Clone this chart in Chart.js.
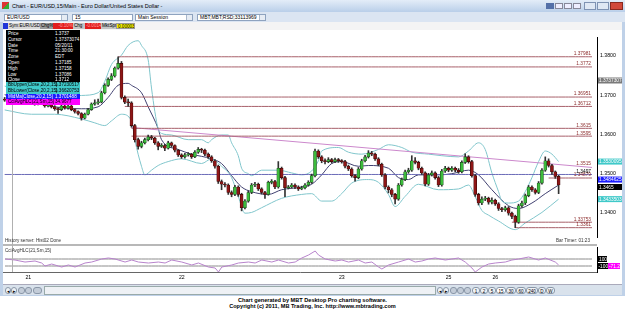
<!DOCTYPE html>
<html>
<head>
<meta charset="utf-8">
<script src="https://cdn.jsdelivr.net/npm/chart.js@4.4.0/dist/chart.umd.min.js"></script>
<style>
body{margin:0;width:625px;height:310px;overflow:hidden;position:relative;background:#fff;font-family:"Liberation Sans",Arial,sans-serif;color:#000}
div,span,canvas{position:absolute;box-sizing:border-box}
#win{left:0;top:0;width:625px;height:296px;background:#bfd1e8}
#title{left:0;top:0;width:625px;height:12px;background:linear-gradient(#e3edf8,#b9cfe9);font-size:5.5px;line-height:12px}
#tool{left:0;top:12px;width:625px;height:10px;background:#dbe5f2}
.dd{top:2px;height:7px;background:#fff;border:1px solid #8ea3bf;font-size:5px;line-height:5px;padding-left:2px}
.arr{top:0;right:0;width:6px;height:5px;background:#e6ecf4;border-left:1px solid #a9b8cc}
#strip{left:3px;top:22px;width:619px;height:8px;background:#f4f4f4}
.sb{top:1px;height:6px;font-size:4.6px;line-height:6px;padding-left:1px;white-space:nowrap;overflow:hidden}
#panel{left:3px;top:30px;width:619px;height:254px;background:#fff}
#info{left:6px;top:30px;width:74px}
.row{left:0;width:74px;height:5.8px;font-size:4.6px;line-height:5.8px;white-space:nowrap}
.row span{top:0}
#scroll{left:3px;top:284px;width:619px;height:11px;background:#d9e2ec;border-top:1px solid #aab}
.tab{top:2px;height:7px;font-size:4.6px;line-height:7px;border:1px solid #8a97a8;border-radius:3px;background:#eef2f6;text-align:center}
.foot{left:0;width:625px;text-align:center;font-weight:bold;font-size:5.6px}
</style>
</head>
<body>
<div id="win"></div>
<div id="title">
  <span style="left:2px;top:2px;width:7px;height:7px;background:linear-gradient(135deg,#d33 50%,#3a3 50%)"></span>
  <span style="left:12px;top:0">Chart - EUR/USD,15/Main - Euro Dollar/United States Dollar -</span>
  <span style="left:546px;top:3px;width:8px;height:6px;background:#5470a8"></span>
  <span style="left:555px;top:3px;width:8px;height:6px;background:#eef;border:1px solid #889"></span>
  <span style="left:564px;top:3px;width:8px;height:6px;background:#eef;border:1px solid #889"></span>
  <span style="left:573px;top:3px;width:8px;height:6px;background:#eef;border:1px solid #889"></span>
  <span style="left:584px;top:2px;width:12px;height:8px;background:#dfe8f4;border:1px solid #7f93b3"></span>
  <span style="left:597px;top:2px;width:12px;height:8px;background:#dfe8f4;border:1px solid #7f93b3"></span>
  <span style="left:610px;top:2px;width:13px;height:8px;background:#d2493a;border:1px solid #8a2a20"></span>
</div>
<div id="tool">
  <div class="dd" style="left:4px;width:64px">EUR/USD<span class="arr"></span></div>
  <div class="dd" style="left:72px;width:61px">15</div>
  <div class="dd" style="left:135px;width:58px">Main Session<span class="arr"></span></div>
  <div class="dd" style="left:197px;width:69px">MBT;MBT;RSD;33113969<span class="arr"></span></div>
</div>
<div id="strip">
  <span class="sb" style="left:0;width:5px;background:#1f35d8"></span>
  <span class="sb" style="left:5px;width:32px;background:#d8d8d8">Sym:EUR/USD</span>
  <span class="sb" style="left:37px;width:13px;background:#9a9a9a">Chg%</span>
  <span class="sb" style="left:50px;width:20px;background:#e21c1c;color:#ff9c9c;text-align:right">-0.10%</span>
  <span class="sb" style="left:70px;width:12px;background:#c4c4c4">Chg</span>
  <span class="sb" style="left:82px;width:16px;background:#e21c1c;color:#ff9c9c">-0.0014</span>
  <span class="sb" style="left:98px;width:15px;background:#c4c4c4">MktSpr</span>
  <span class="sb" style="left:113px;width:19px;background:#f4f000;border:1px solid #999">0.00003</span>
</div>
<div id="panel"></div>
<canvas id="main" width="619" height="213" style="left:3px;top:31px"></canvas>
<span style="left:3px;top:244px;width:594px;height:2px;background:#b8b8b8"></span>
<canvas id="osc" width="619" height="36" style="left:3px;top:247px"></canvas>
<span style="left:12px;top:31px;width:1px;height:241px;background:#b0b0b0"></span>
<span style="left:5px;top:238px;font-size:4.6px;color:#333">History server: Hist02 Done</span>
<span style="left:556px;top:238px;font-size:4.6px;color:#333">Bar Timer: 01:23</span>
<span style="left:5px;top:248px;font-size:4.6px;color:#333">CciAvgHLC(21,Sm,15)</span>
<div id="info">
  <div style="left:0;top:0;width:74px;height:52px;background:#000"></div>
</div>
<div id="scroll">
  <span class="tab" style="left:2px;width:6px">&#9666;</span>
  <span class="tab" style="left:8px;width:6px">&#9656;</span>
  <span class="tab" style="left:15px;width:7px;background:#c3ccd8"></span>
  <span class="tab" style="left:22px;width:7px;background:#c3ccd8"></span>
  <span class="tab" style="left:30px;width:9px;background:#c3ccd8"></span>
  <span style="left:41px;top:1px;width:392px;height:9px;border:1px solid #9aa;background:#eef1f5"></span>
  <span class="tab" style="left:434px;width:6px">&#9666;</span>
  <span class="tab" style="left:440px;width:6px">&#9656;</span>
  <span class="tab" style="left:447px;width:7px;background:#c3ccd8"></span>
  <span class="tab" style="left:454px;width:7px;background:#c3ccd8"></span>
  <span class="tab" style="left:461px;width:7px;background:#c3ccd8"></span>
  <span class="tab" style="left:469px;width:8px">1</span>
  <span class="tab" style="left:477px;width:8px">2</span>
  <span class="tab" style="left:485px;width:8px">5</span>
  <span class="tab" style="left:493px;width:10px;background:#fff">15</span>
  <span class="tab" style="left:503px;width:10px">30</span>
  <span class="tab" style="left:513px;width:10px">60</span>
  <span class="tab" style="left:523px;width:12px">240</span>
  <span class="tab" style="left:535px;width:8px">D</span>
  <span class="tab" style="left:543px;width:9px">W</span>
</div>
<div class="foot" style="top:297px">Chart generated by MBT Desktop Pro charting software.</div>
<div class="foot" style="top:303px">Copyright (c) 2011, MB Trading, Inc. http://www.mbtrading.com</div>
<script>
// 15 minute EUR/USD candles
var opens = [1.3690,1.3687,1.3692,1.3694,1.3689,1.3696,1.3692,1.3684,1.3689,1.3682,
  1.3677,1.3684,1.3680,1.3672,1.3675,1.3670,1.3665,1.3663,1.3672,1.3667,
  1.3672,1.3663,1.3658,1.3653,1.3641,1.3651,1.3663,1.3677,1.3680,1.3682,
  1.3706,1.3725,1.3740,1.3749,1.3769,1.3781,1.3694,1.3682,1.3680,1.3622,
  1.3586,1.3569,1.3578,1.3586,1.3593,1.3590,1.3578,1.3569,1.3571,1.3564,
  1.3578,1.3571,1.3559,1.3547,1.3542,1.3547,1.3549,1.3542,1.3554,1.3561,
  1.3559,1.3549,1.3542,1.3532,1.3518,1.3479,1.3472,1.3470,1.3451,1.3446,
  1.3465,1.3446,1.3412,1.3429,1.3451,1.3470,1.3472,1.3460,1.3451,1.3446,
  1.3477,1.3479,1.3465,1.3513,1.3489,1.3463,1.3465,1.3470,1.3465,1.3460,
  1.3463,1.3470,1.3477,1.3494,1.3557,1.3542,1.3532,1.3530,1.3535,1.3530,
  1.3535,1.3532,1.3530,1.3518,1.3511,1.3494,1.3489,1.3511,1.3532,1.3542,
  1.3552,1.3549,1.3537,1.3523,1.3496,1.3465,1.3458,1.3446,1.3434,1.3470,
  1.3484,1.3504,1.3508,1.3532,1.3528,1.3513,1.3501,1.3472,1.3496,1.3501,
  1.3489,1.3470,1.3506,1.3513,1.3508,1.3513,1.3508,1.3504,1.3528,1.3542,
  1.3530,1.3494,1.3446,1.3424,1.3434,1.3436,1.3426,1.3431,1.3422,1.3410,
  1.3407,1.3412,1.3398,1.3390,1.3375,1.3417,1.3424,1.3443,1.3465,1.3458,
  1.3451,1.3475,1.3508,1.3532,1.3520,1.3504,1.3492];
var closes = [1.3687,1.3692,1.3694,1.3689,1.3696,1.3692,1.3684,1.3689,1.3682,1.3677,
  1.3684,1.3680,1.3672,1.3675,1.3670,1.3665,1.3663,1.3672,1.3667,1.3672,
  1.3663,1.3658,1.3653,1.3641,1.3651,1.3663,1.3677,1.3680,1.3682,1.3706,
  1.3725,1.3740,1.3749,1.3769,1.3781,1.3694,1.3682,1.3680,1.3622,1.3586,
  1.3569,1.3578,1.3586,1.3593,1.3590,1.3578,1.3569,1.3571,1.3564,1.3578,
  1.3571,1.3559,1.3547,1.3542,1.3547,1.3549,1.3542,1.3554,1.3561,1.3559,
  1.3549,1.3542,1.3532,1.3518,1.3479,1.3472,1.3470,1.3451,1.3446,1.3465,
  1.3446,1.3412,1.3429,1.3451,1.3470,1.3472,1.3460,1.3451,1.3446,1.3477,
  1.3479,1.3465,1.3513,1.3489,1.3463,1.3465,1.3470,1.3465,1.3460,1.3463,
  1.3470,1.3477,1.3494,1.3557,1.3542,1.3532,1.3530,1.3535,1.3530,1.3535,
  1.3532,1.3530,1.3518,1.3511,1.3494,1.3489,1.3511,1.3532,1.3542,1.3552,
  1.3549,1.3537,1.3523,1.3496,1.3465,1.3458,1.3446,1.3434,1.3470,1.3484,
  1.3504,1.3508,1.3532,1.3528,1.3513,1.3501,1.3472,1.3496,1.3501,1.3489,
  1.3470,1.3506,1.3513,1.3508,1.3513,1.3508,1.3504,1.3528,1.3542,1.3530,
  1.3494,1.3446,1.3424,1.3434,1.3436,1.3426,1.3431,1.3422,1.3410,1.3407,
  1.3412,1.3398,1.3390,1.3375,1.3417,1.3424,1.3443,1.3465,1.3458,1.3451,
  1.3475,1.3508,1.3532,1.3520,1.3504,1.3492,1.3470];
var highs = [1.3694,1.3696,1.3698,1.3697,1.3700,1.3699,1.3694,1.3692,1.3690,1.3685,
  1.3687,1.3686,1.3682,1.3678,1.3677,1.3673,1.3668,1.3675,1.3676,1.3675,
  1.3674,1.3665,1.3660,1.3655,1.3654,1.3666,1.3680,1.3688,1.3690,1.3710,
  1.3729,1.3744,1.3755,1.3772,1.3798,1.3786,1.3698,1.3690,1.3683,1.3625,
  1.3590,1.3582,1.3590,1.3598,1.3597,1.3592,1.3581,1.3576,1.3574,1.3582,
  1.3580,1.3573,1.3561,1.3550,1.3551,1.3553,1.3551,1.3558,1.3566,1.3564,
  1.3562,1.3552,1.3545,1.3535,1.3521,1.3483,1.3476,1.3473,1.3455,1.3469,
  1.3468,1.3449,1.3433,1.3455,1.3474,1.3477,1.3475,1.3463,1.3454,1.3480,
  1.3484,1.3482,1.3530,1.3516,1.3492,1.3469,1.3474,1.3473,1.3468,1.3467,
  1.3474,1.3481,1.3498,1.3562,1.3560,1.3545,1.3537,1.3540,1.3538,1.3539,
  1.3538,1.3535,1.3533,1.3521,1.3514,1.3497,1.3515,1.3536,1.3546,1.3558,
  1.3556,1.3552,1.3540,1.3526,1.3499,1.3468,1.3461,1.3449,1.3474,1.3488,
  1.3508,1.3513,1.3545,1.3540,1.3531,1.3516,1.3504,1.3500,1.3506,1.3504,
  1.3492,1.3510,1.3518,1.3516,1.3517,1.3516,1.3512,1.3532,1.3550,1.3545,
  1.3533,1.3497,1.3449,1.3440,1.3441,1.3439,1.3437,1.3434,1.3425,1.3413,
  1.3416,1.3415,1.3401,1.3393,1.3421,1.3429,1.3447,1.3469,1.3468,1.3461,
  1.3479,1.3512,1.3542,1.3537,1.3523,1.3506,1.3495];
var lows = [1.3684,1.3685,1.3690,1.3686,1.3687,1.3689,1.3681,1.3682,1.3679,1.3674,
  1.3675,1.3677,1.3669,1.3670,1.3667,1.3661,1.3653,1.3660,1.3664,1.3664,
  1.3660,1.3654,1.3649,1.3636,1.3639,1.3649,1.3661,1.3674,1.3676,1.3680,
  1.3703,1.3722,1.3737,1.3746,1.3766,1.3690,1.3678,1.3671,1.3618,1.3580,
  1.3562,1.3565,1.3575,1.3583,1.3586,1.3574,1.3560,1.3566,1.3558,1.3562,
  1.3567,1.3555,1.3543,1.3538,1.3539,1.3544,1.3538,1.3540,1.3551,1.3553,
  1.3545,1.3538,1.3528,1.3513,1.3474,1.3458,1.3465,1.3446,1.3440,1.3443,
  1.3441,1.3404,1.3409,1.3426,1.3448,1.3466,1.3456,1.3447,1.3436,1.3444,
  1.3473,1.3461,1.3462,1.3485,1.3440,1.3460,1.3462,1.3461,1.3456,1.3458,
  1.3460,1.3467,1.3474,1.3491,1.3538,1.3527,1.3524,1.3527,1.3526,1.3527,
  1.3528,1.3526,1.3514,1.3507,1.3490,1.3480,1.3486,1.3508,1.3529,1.3539,
  1.3545,1.3533,1.3519,1.3492,1.3460,1.3450,1.3440,1.3422,1.3431,1.3467,
  1.3481,1.3500,1.3505,1.3524,1.3509,1.3497,1.3468,1.3469,1.3493,1.3485,
  1.3466,1.3467,1.3502,1.3504,1.3505,1.3504,1.3500,1.3501,1.3525,1.3526,
  1.3490,1.3441,1.3419,1.3420,1.3430,1.3421,1.3422,1.3418,1.3405,1.3402,
  1.3403,1.3393,1.3384,1.3361,1.3372,1.3413,1.3420,1.3440,1.3454,1.3447,
  1.3448,1.3472,1.3505,1.3516,1.3497,1.3487,1.3448];

// indicator lines, read at [bar, value]
var bbUpper = [[0,1.3723],[8,1.3705],[15,1.3696],[23,1.3699],[28,1.3706],[30,1.3735],[32,1.3778],[35,1.3802],[37,1.3827],[40,1.3839],[41,1.3827],[43,1.3790],[44,1.3718],[45,1.3658],[46,1.3614],[47,1.3602],[50,1.3598],[55,1.3586],[59,1.3586],[61,1.3578],[62,1.3586],[65,1.3598],[67,1.3598],[68,1.3578],[70,1.3545],[71,1.3513],[73,1.3499],[74,1.3494],[77,1.3508],[82,1.3508],[86,1.3501],[89,1.3496],[92,1.3506],[94,1.3532],[95,1.3557],[100,1.3566],[103,1.3554],[107,1.3549],[112,1.3561],[115,1.3573],[119,1.3566],[122,1.3554],[127,1.3549],[131,1.3545],[136,1.3542],[139,1.3557],[142,1.3578],[144,1.3561],[146,1.3501],[148,1.3453],[149,1.3429],[151,1.3424],[154,1.3429],[156,1.3453],[158,1.3489],[160,1.3530],[162,1.3557],[164,1.3549],[166,1.3530]];
var bbLower = [[0,1.3662],[8,1.3651],[15,1.3651],[23,1.3639],[27,1.3629],[30,1.3622],[32,1.3634],[35,1.3651],[38,1.3634],[39,1.3586],[41,1.3518],[42,1.3496],[44,1.3508],[46,1.3520],[49,1.3530],[53,1.3537],[59,1.3525],[62,1.3537],[65,1.3518],[68,1.3489],[70,1.3441],[72,1.3398],[74,1.3400],[77,1.3412],[83,1.3436],[89,1.3446],[92,1.3448],[95,1.3429],[98,1.3429],[101,1.3448],[104,1.3475],[109,1.3484],[112,1.3477],[115,1.3446],[117,1.3415],[120,1.3441],[124,1.3472],[130,1.3458],[136,1.3460],[139,1.3470],[141,1.3440],[143,1.3405],[145,1.3393],[148,1.3378],[153,1.3356],[156,1.3373],[161,1.3400],[166,1.3434]];
var midMa = [[0,1.3701],[8,1.3682],[15,1.3670],[23,1.3665],[28,1.3670],[31,1.3694],[34,1.3725],[37,1.3730],[38,1.3725],[41,1.3706],[43,1.3670],[46,1.3614],[47,1.3586],[52,1.3561],[56,1.3549],[62,1.3537],[65,1.3525],[68,1.3494],[71,1.3465],[74,1.3453],[79,1.3446],[83,1.3458],[89,1.3465],[92,1.3472],[95,1.3496],[98,1.3525],[101,1.3530],[106,1.3518],[109,1.3520],[115,1.3513],[118,1.3489],[121,1.3484],[124,1.3496],[130,1.3496],[134,1.3499],[139,1.3508],[142,1.3496],[146,1.3458],[151,1.3417],[154,1.3410],[158,1.3424],[162,1.3448],[166,1.3470]];
var cci = [[0,100],[3,71],[6,14],[9,43],[11,-14],[12,-100],[14,-43],[17,-129],[19,-71],[21,-129],[24,-14],[26,14],[29,100],[31,129],[33,100],[36,14],[38,71],[40,14],[43,-14],[46,14],[48,-14],[50,71],[53,14],[56,-71],[58,-14],[61,-129],[63,-157],[64,-271],[65,-129],[68,-71],[70,-14],[73,14],[75,-14],[77,71],[80,14],[82,71],[85,-14],[87,14],[89,129],[91,214],[93,329],[94,214],[96,100],[99,43],[101,71],[103,14],[106,71],[108,-14],[110,14],[112,-129],[113,-186],[115,-71],[118,14],[121,100],[123,14],[125,43],[127,100],[129,129],[132,71],[134,100],[136,129],[138,14],[140,-157],[141,-271],[143,-129],[145,-43],[147,-14],[150,14],[152,71],[154,100],[157,157],[160,71],[162,129],[165,14],[166,-71]];

// horizontal levels: price, first bar, label
var levelPrices = [1.3798, 1.3772, 1.3695, 1.3671, 1.3615, 1.3595, 1.3488, 1.3375, 1.3361];
var levelStarts = [34, 34, 36, 36, 38, 38, 163, 152, 153];
var levelTexts = ['1.37981', '1.3772', '1.36951', '1.36712', '1.3615', '1.3595', '1.34879', '1.33753', '1.3361'];
var bluePrice = 1.3497;
var trendPoints = [[38, 1.3617], [176, 1.3515]];

var priceTicks = [1.34, 1.35, 1.36, 1.37, 1.38];
var cciLevels = [100, -100];
var dayLabels = {7: '21', 53: '22', 101: '23', 133: '25', 147: '26'};

var infoLabels = ['Price', 'Cursor', 'Date', 'Time', 'Zone', 'Open', 'High', 'Low', 'Close'];
var infoValues = ['1.3737', '1.37373074', '05/20/11', '21:30:00', 'EDT', '1.37185', '1.37158', '1.37086', '1.3712'];
var studyLabels = ['BbUpper(Close,20,2,15)', 'BbLower(Close,20,2,15)', 'MidMa(Close,20,2,15)', 'CciAvgHLC(21,Sm,15)'];
var studyValues = ['1.37230517', '1.36620753', '1.3701488', '34.9677'];
var studyColors = ['#3fc9c9', '#3fc9c9', '#1a1aff', '#ff00ff'];

var N = 178;
var LAST = 176;
var slots = [];
for (var i = 0; i < N; i++) slots.push(String(i));

function sparse(points) {
    var arr = new Array(N).fill(null);
    points.forEach(function (p) { arr[p[0]] = p[1]; });
    return arr;
}
function level(price, start) {
    var arr = new Array(N).fill(null);
    for (var i = start; i <= LAST; i++) arr[i] = price;
    return arr;
}

// info box
var info = document.getElementById('info');
infoLabels.forEach(function (l, k) {
    var r = document.createElement('div');
    r.className = 'row';
    r.style.top = (1 + k * 5.8) + 'px';
    r.style.color = '#fff';
    r.innerHTML = '<span style="left:2px">' + l + '</span><span style="left:49px">' + infoValues[k] + '</span>';
    info.appendChild(r);
});
studyLabels.forEach(function (l, k) {
    var r = document.createElement('div');
    r.className = 'row';
    r.style.top = (52 + k * 5.8) + 'px';
    r.style.background = studyColors[k];
    r.style.color = k == 2 ? '#fff' : '#000';
    r.innerHTML = '<span style="left:2px">' + l + '</span><span style="left:49px">' + studyValues[k] + '</span>';
    info.appendChild(r);
});

var axisBoxes = [
    {v: 1.37373, t: '1.37373074', bg: '#7a7a7a', fg: '#fff'},
    {v: 1.3530, t: '1.35300957', bg: '#3fc9c9', fg: '#fff'},
    {v: 1.3484, t: '1.34846251', bg: '#1a1aff', fg: '#fff'},
    {v: 1.3465, t: '1.3465', bg: '#000', fg: '#fff'},
    {v: 1.3434, t: '1.34335031', bg: '#3fc9c9', fg: '#fff'}
];

var overlayMain = {
    id: 'overlayMain',
    afterDatasetsDraw: function (chart) {
        var ctx = chart.ctx, area = chart.chartArea, y = chart.scales.y;
        ctx.save();
        ctx.font = '4.8px "Liberation Sans", Arial';
        ctx.textAlign = 'right';
        ctx.textBaseline = 'bottom';
        levelPrices.forEach(function (p, k) {
            ctx.fillStyle = '#8b2a2a';
            ctx.fillText(levelTexts[k], area.right - 6, y.getPixelForValue(p) - 0.5);
        });
        ctx.fillStyle = '#8b2a2a';
        ctx.fillText('1.3515', area.right - 6, y.getPixelForValue(trendPoints[1][1]) - 1);
        ctx.fillStyle = '#000';
        ctx.fillText('1.3497', area.right - 6, y.getPixelForValue(bluePrice) - 0.5);
        ctx.textAlign = 'left';
        ctx.textBaseline = 'middle';
        axisBoxes.forEach(function (b) {
            var py = y.getPixelForValue(b.v);
            ctx.fillStyle = b.bg;
            ctx.fillRect(area.right + 1, py - 3, 24, 6);
            ctx.fillStyle = b.fg;
            ctx.fillText(b.t, area.right + 2, py + 0.3);
        });
        ctx.restore();
    }
};

var bodyColors = closes.map(function (c, i) { return c >= opens[i] ? '#3cbc3c' : '#8e1616'; });
var bodyBorders = closes.map(function (c, i) { return c >= opens[i] ? '#1d4a1d' : '#3a0606'; });

var lineBase = {type: 'line', pointRadius: 0, borderWidth: 1, spanGaps: true, order: 5};
var datasets = [
    {type: 'bar', data: opens.map(function (o, i) { return [o, closes[i]]; }), backgroundColor: bodyColors,
     borderColor: bodyBorders, borderWidth: 0.6, borderSkipped: false, barThickness: 3, minBarLength: 1, grouped: false, order: 1},
    {type: 'bar', data: lows.map(function (l, i) { return [l, highs[i]]; }), backgroundColor: '#333',
     barThickness: 1, grouped: false, order: 2}
];
levelPrices.forEach(function (p, k) {
    datasets.push(Object.assign({}, lineBase, {data: level(p, levelStarts[k]), borderColor: '#a8606a', spanGaps: false}));
});
datasets.push(Object.assign({}, lineBase, {data: level(bluePrice, 0), borderColor: '#6a6ab8', spanGaps: false}));
datasets.push(Object.assign({}, lineBase, {data: sparse(trendPoints), borderColor: '#cc88cc'}));
datasets.push(Object.assign({}, lineBase, {data: sparse(bbUpper), borderColor: '#80c6cc', cubicInterpolationMode: 'monotone'}));
datasets.push(Object.assign({}, lineBase, {data: sparse(bbLower), borderColor: '#80c6cc', cubicInterpolationMode: 'monotone'}));
datasets.push(Object.assign({}, lineBase, {data: sparse(midMa), borderColor: '#404070', cubicInterpolationMode: 'monotone'}));

new Chart(document.getElementById('main'), {
    type: 'bar',
    data: {labels: slots, datasets: datasets},
    options: {
        responsive: false,
        animation: false,
        events: [],
        layout: {padding: 0},
        plugins: {legend: {display: false}, tooltip: {enabled: false}},
        scales: {
            x: {display: false, offset: true},
            y: {
                position: 'right', min: 1.33349, max: 1.38482,
                afterFit: function (s) { s.width = 25; },
                afterBuildTicks: function (s) { s.ticks = priceTicks.map(function (v) { return {value: v}; }); },
                grid: {display: false, drawTicks: false},
                border: {display: true, color: '#000'},
                ticks: {padding: 3, color: '#000', font: {size: 5.2, family: 'Liberation Sans'},
                    callback: function (v) { return v.toFixed(4); }}
            }
        }
    },
    plugins: [overlayMain]
});

var overlayOsc = {
    id: 'overlayOsc',
    afterDatasetsDraw: function (chart) {
        var ctx = chart.ctx, area = chart.chartArea, y = chart.scales.y;
        ctx.save();
        ctx.font = '4.8px "Liberation Sans", Arial';
        ctx.textBaseline = 'middle';
        var p1 = y.getPixelForValue(100), p2 = y.getPixelForValue(-100);
        ctx.fillStyle = '#000';
        ctx.fillRect(area.right + 1, p1 - 3, 9, 6);
        ctx.fillRect(area.right + 1, p2 - 3, 10, 6);
        ctx.fillStyle = '#ff00ff';
        ctx.fillRect(area.right + 11, p2 - 3, 12, 6);
        ctx.fillStyle = '#fff';
        ctx.fillText('100', area.right + 2, p1 + 0.3);
        ctx.fillText('-100', area.right + 1.5, p2 + 0.3);
        ctx.fillText('-71.2', area.right + 12, p2 + 0.3);
        ctx.restore();
    }
};

new Chart(document.getElementById('osc'), {
    type: 'line',
    data: {
        labels: slots,
        datasets: [
            {data: sparse(cci), borderColor: '#b884cc', borderWidth: 1, pointRadius: 0, spanGaps: true, tension: 0},
            {data: level(cciLevels[0], 0), borderColor: '#8c8c8c', borderWidth: 1, pointRadius: 0},
            {data: level(cciLevels[1], 0), borderColor: '#8c8c8c', borderWidth: 1, pointRadius: 0}
        ]
    },
    options: {
        responsive: false,
        animation: false,
        events: [],
        layout: {padding: 0},
        plugins: {legend: {display: false}, tooltip: {enabled: false}},
        scales: {
            x: {
                offset: true,
                afterFit: function (s) { s.height = 11; },
                grid: {display: false, drawTicks: false},
                border: {display: true, color: '#666'},
                ticks: {autoSkip: false, maxRotation: 0, padding: 2, color: '#000', font: {size: 5.2, family: 'Liberation Sans'},
                    callback: function (v, i) { return dayLabels[i] || ''; }}
            },
            y: {
                position: 'right', min: -271, max: 443,
                afterFit: function (s) { s.width = 25; },
                grid: {display: false, drawTicks: false},
                border: {display: true, color: '#000'},
                ticks: {display: false}
            }
        }
    },
    plugins: [overlayOsc]
});
</script>
</body>
</html>
